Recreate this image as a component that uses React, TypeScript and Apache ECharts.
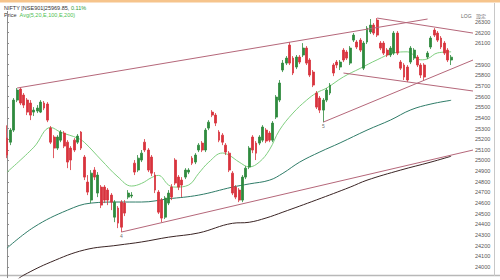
import React, { useEffect, useRef } from 'react';
import * as echarts from 'echarts';

// [open, close, low, high]
const candles: number[][] = [
  [25210, 25051, 25022, 25330], [25172, 25285, 25144, 25304], [25285, 25567, 25267, 25586], [25567, 25661, 25548, 25680],
  [25670, 25539, 25520, 25689], [25614, 25520, 25492, 25633], [25567, 25454, 25426, 25586], [25539, 25426, 25379, 25567],
  [25454, 25473, 25417, 25501], [25464, 25492, 25445, 25520], [25454, 25548, 25445, 25567], [25539, 25492, 25473, 25558],
  [25530, 25379, 25360, 25548], [25304, 25172, 25154, 25323], [25220, 25116, 25022, 25238], [25116, 25220, 25098, 25238],
  [25191, 25267, 25172, 25285], [25257, 25135, 25116, 25276], [25172, 24985, 24928, 25191], [25116, 25004, 24910, 25135],
  [25191, 25098, 25079, 25210], [25172, 25229, 25154, 25248], [25267, 25116, 25098, 25276], [25032, 24844, 24816, 25051],
  [24797, 24703, 24675, 24863], [24628, 24881, 24600, 24910], [24910, 24844, 24816, 24938], [24694, 24863, 24656, 24891],
  [24750, 24581, 24553, 24769], [24750, 24628, 24600, 24769], [24722, 24628, 24581, 24741], [24675, 24609, 24534, 24694],
  [24468, 24609, 24421, 24628], [24553, 24412, 24365, 24572], [24609, 24374, 24328, 24628], [24600, 24506, 24478, 24628],
  [24656, 24694, 24637, 24722], [24666, 24675, 24647, 24703], [24975, 24891, 24863, 25004], [24910, 25022, 24891, 25051],
  [25004, 25069, 24985, 25098], [25172, 25098, 25079, 25201], [25098, 24910, 24891, 25116], [25032, 24881, 24853, 25051],
  [24863, 24722, 24694, 24891], [24703, 24515, 24497, 24722], [24628, 24459, 24421, 24647], [24468, 24647, 24450, 24666],
  [24600, 24694, 24581, 24722], [24750, 24656, 24628, 24778], [25004, 24788, 24769, 25022], [24844, 24750, 24722, 24863],
  [24816, 24769, 24656, 24844], [24844, 24910, 24825, 24928], [24891, 24910, 24872, 24928], [25022, 24975, 24957, 25041],
  [24985, 25051, 24966, 25069], [25098, 25144, 25079, 25163], [25163, 25098, 25079, 25182], [25098, 25285, 25079, 25304],
  [25304, 25360, 25285, 25379], [25454, 25426, 25407, 25473], [25426, 25351, 25323, 25445], [25267, 25191, 25172, 25285],
  [25238, 25172, 25144, 25257], [25144, 25079, 25051, 25163], [25069, 24910, 24891, 25088], [24881, 24694, 24675, 24900],
  [24750, 24656, 24637, 24769], [24722, 24628, 24609, 24741], [24628, 24844, 24609, 24863], [24844, 24928, 24825, 24947],
  [24938, 25116, 24919, 25135], [25220, 25098, 25069, 25238], [25163, 25069, 25004, 25182], [25163, 25220, 25144, 25238],
  [25191, 25314, 25172, 25332], [25285, 25182, 25163, 25304], [25257, 25191, 25172, 25276], [25191, 25351, 25172, 25370],
  [25407, 25595, 25389, 25614], [25567, 25727, 25548, 25755], [25849, 25914, 25830, 25943], [25914, 25961, 25896, 25980],
  [26083, 25914, 25896, 26112], [25961, 25821, 25802, 25980], [25877, 25971, 25858, 25990], [25971, 25924, 25905, 25990],
  [25990, 26055, 25971, 26102], [26055, 25914, 25896, 26074], [25943, 25802, 25783, 25961], [25830, 25708, 25689, 25849],
  [25633, 25501, 25483, 25652], [25586, 25473, 25445, 25605], [25473, 25567, 25360, 25586], [25567, 25661, 25548, 25680],
  [25633, 25708, 25614, 25727], [25896, 25821, 25792, 25914], [25924, 25896, 25867, 25943], [25877, 25924, 25849, 25943],
  [26036, 25943, 25924, 26055], [26018, 25961, 25943, 26036], [25914, 26055, 25896, 26074], [26130, 26177, 26112, 26196],
  [26112, 26065, 26046, 26130], [26130, 26036, 26018, 26149], [25867, 26102, 25849, 26121], [26112, 26243, 26093, 26262],
  [26206, 26271, 26187, 26328], [26271, 26196, 26177, 26290], [26318, 26177, 26159, 26337], [26102, 26055, 26036, 26121],
  [26102, 26008, 25990, 26121], [26036, 25990, 25971, 26055], [25990, 26055, 25971, 26074], [26008, 26196, 25990, 26215],
  [26196, 26008, 25990, 26215], [25924, 25867, 25849, 25943], [25896, 25783, 25755, 25914], [25877, 25755, 25736, 25896],
  [25924, 26055, 25905, 26074], [25961, 26036, 25943, 26055], [25971, 25896, 25877, 25990], [25896, 25802, 25774, 25914],
  [25896, 25783, 25755, 25914], [25971, 26008, 25952, 26027], [26065, 26149, 26046, 26168], [26224, 26177, 26159, 26243],
  [26196, 26130, 26112, 26215], [26149, 26065, 26046, 26168], [26102, 26008, 25990, 26121], [26036, 25943, 25924, 26055],
  [25943, 25969.85, 25896, 25990],
];

// total slots on the time axis (candles plus empty space on the right)
const SLOT_COUNT = 139;
const categories: string[] = Array.from({ length: SLOT_COUNT }, (_, i) => String(i));

// moving averages: [slot, value]
const avg20: number[][] = [
  [0, 24890], [8, 25125], [13, 25310], [16, 25265], [21, 25210], [23, 25170], [28, 25005], [33, 24845],
  [37, 24760], [40, 24785], [43, 24840], [45, 24860], [48, 24770], [50, 24750], [54, 24770], [57, 24880],
  [60, 24985], [64, 25070], [66, 25050], [69, 24985], [72, 24940], [75, 24985], [78, 25100], [81, 25285],
  [85, 25445], [89, 25565], [92, 25635], [95, 25680], [100, 25785], [105, 25865], [110, 25945], [115, 26010],
  [119, 26020], [123, 25945], [125, 25955], [128, 26010], [132, 26020],
];
const avg100: number[][] = [
  [0, 24177], [8, 24374], [18, 24534], [25, 24600], [33, 24610], [40, 24610], [48, 24640], [57, 24675],
  [67, 24750], [72, 24780], [78, 24815], [82, 24880], [87, 24985], [93, 25080], [99, 25165], [107, 25285],
  [114, 25380], [120, 25475], [126, 25530], [132, 25565],
];
const avg200: number[][] = [
  [3, 23880], [5, 23924], [13, 24046], [23, 24160], [33, 24205], [40, 24235], [48, 24280], [57, 24320],
  [67, 24410], [72, 24420], [77, 24460], [82, 24515], [92, 24630], [102, 24750], [107, 24815], [117, 24910],
  [126, 24985], [132, 25040],
];

// trend lines: [[slot, price], [slot, price]]
const trendLines: number[][][] = [
  [[3, 25680], [125, 26328]],
  [[34, 24328], [138.5, 25098]],
  [[94, 25360], [138.5, 25943]],
  [[110, 26337], [138.5, 26196]],
  [[100, 25821], [138.5, 25652]],
];

const pivots: { label: string; slot: number; price: number }[] = [
  { label: '4', slot: 34, price: 24328 },
  { label: '5', slot: 94, price: 25360 },
];

const lastPrice = 25969.85;
const hiddenTick = 26000; // covered by the last-price box
const headerSymbol = 'NIFTY [NSE901]25969.85,';
const headerChange = '0.11%';
const headerLabel = 'Price';
const headerAvg = 'Avg(5,20,E,100,E,200)';

const Y_MIN = 23900;
const Y_MAX = 26400;
const Y_STEP = 100;

const UP = '#2e8a3e';
const DOWN = '#d8333d';
const TREND = '#b5677a';
const FONT = '"Liberation Sans", Arial, sans-serif';

export default function App() {
  const ref = useRef<HTMLDivElement>(null);
  useEffect(() => {
    if (!ref.current) return;
    const chart = echarts.init(ref.current, undefined, { renderer: 'svg' });
    const option: any = {
      animation: false,
      backgroundColor: '#ffffff',
      textStyle: { fontFamily: FONT },
      grid: { left: 5.3, right: 27, top: 11.35, bottom: 2.35, containLabel: false },
      xAxis: [
        { type: 'category', data: categories, show: false, boundaryGap: true },
        { type: 'value', min: -0.5, max: SLOT_COUNT - 0.5, show: false },
      ],
      yAxis: {
        type: 'value',
        position: 'right',
        min: Y_MIN,
        max: Y_MAX,
        interval: Y_STEP,
        axisLine: { show: true, lineStyle: { color: '#8c8c8c', width: 1 } },
        axisTick: { show: true, length: 2, lineStyle: { color: '#8c8c8c' } },
        axisLabel: {
          fontSize: 5.5,
          color: '#555',
          margin: 2,
          fontFamily: FONT,
          showMinLabel: false,
          showMaxLabel: false,
          formatter: (v: number) => (v === hiddenTick ? '' : String(v)),
        },
        splitLine: { show: false },
      },
      graphic: [
        { type: 'rect', shape: { x: 0, y: 0, width: 500, height: 2.5 }, style: { fill: '#f6c48c' }, silent: true },
        { type: 'line', shape: { x1: 0, y1: 275.5, x2: 500, y2: 275.5 }, style: { stroke: '#b8b8b8', lineWidth: 1.5 }, silent: true },
        { type: 'line', shape: { x1: 494.5, y1: 3, x2: 494.5, y2: 276 }, style: { stroke: '#c8c8c8', lineWidth: 1 }, silent: true },
        {
          type: 'text', x: 4, y: 4.5,
          style: {
            text: `{a|${headerSymbol}} {g|${headerChange}}`,
            fontFamily: FONT, fontSize: 5.5,
            rich: { a: { fill: '#333', fontSize: 5.5, fontFamily: FONT }, g: { fill: '#2f9a3a', fontSize: 5.5, fontFamily: FONT } },
          },
        },
        {
          type: 'text', x: 4, y: 12,
          style: {
            text: `{a|${headerLabel}}  {g|${headerAvg}}`,
            fontFamily: FONT, fontSize: 5.5,
            rich: { a: { fill: '#333', fontSize: 5.5, fontFamily: FONT }, g: { fill: '#4cc050', fontSize: 5.5, fontFamily: FONT } },
          },
        },
        { type: 'text', x: 461, y: 13, style: { text: 'LOG', fill: '#666', fontSize: 5, fontFamily: FONT } },
        { type: 'text', x: 476, y: 12.5, style: { text: '設定', fill: '#666', fontSize: 5, fontFamily: '"Noto Sans CJK JP", sans-serif' } },
      ],
      series: [
        {
          type: 'candlestick',
          data: candles,
          barWidth: 2.4,
          itemStyle: { color: UP, color0: DOWN, borderColor: UP, borderColor0: DOWN, borderWidth: 0.8 },
          markLine: {
            silent: true,
            symbol: 'none',
            data: [{ yAxis: lastPrice }],
            lineStyle: { opacity: 0 },
            label: {
              show: true,
              position: 'end',
              distance: 0.5,
              formatter: lastPrice.toFixed(2),
              backgroundColor: '#000',
              color: '#fff',
              fontSize: 5.5,
              fontFamily: FONT,
              padding: [1.5, 1.5, 1, 1.5],
            },
          },
        },
        {
          type: 'line', xAxisIndex: 1, data: avg200, smooth: 0.4, symbol: 'none',
          lineStyle: { color: '#3a2424', width: 1 }, z: 1,
        },
        {
          type: 'line', xAxisIndex: 1, data: avg100, smooth: 0.4, symbol: 'none',
          lineStyle: { color: '#2f7c68', width: 1 }, z: 1,
        },
        {
          type: 'line', xAxisIndex: 1, data: avg20, smooth: 0.4, symbol: 'none',
          lineStyle: { color: '#7fcf7f', width: 1 }, z: 1,
        },
        ...trendLines.map((seg) => ({
          type: 'line', xAxisIndex: 1, data: seg, symbol: 'none',
          lineStyle: { color: TREND, width: 1 }, z: 3,
        })),
        {
          type: 'scatter', xAxisIndex: 1,
          data: pivots.map((p) => ({ value: [p.slot, p.price], name: p.label })),
          symbolSize: 0,
          label: { show: true, position: 'bottom', distance: 1, formatter: (p: any) => p.name, fontSize: 5, color: '#444', fontFamily: FONT },
          z: 4,
        },
      ],
    };
    chart.setOption(option);
    return () => chart.dispose();
  }, []);
  return <div ref={ref} style={{ position: 'fixed', left: 0, top: 0, width: 500, height: 280 }} />;
}
